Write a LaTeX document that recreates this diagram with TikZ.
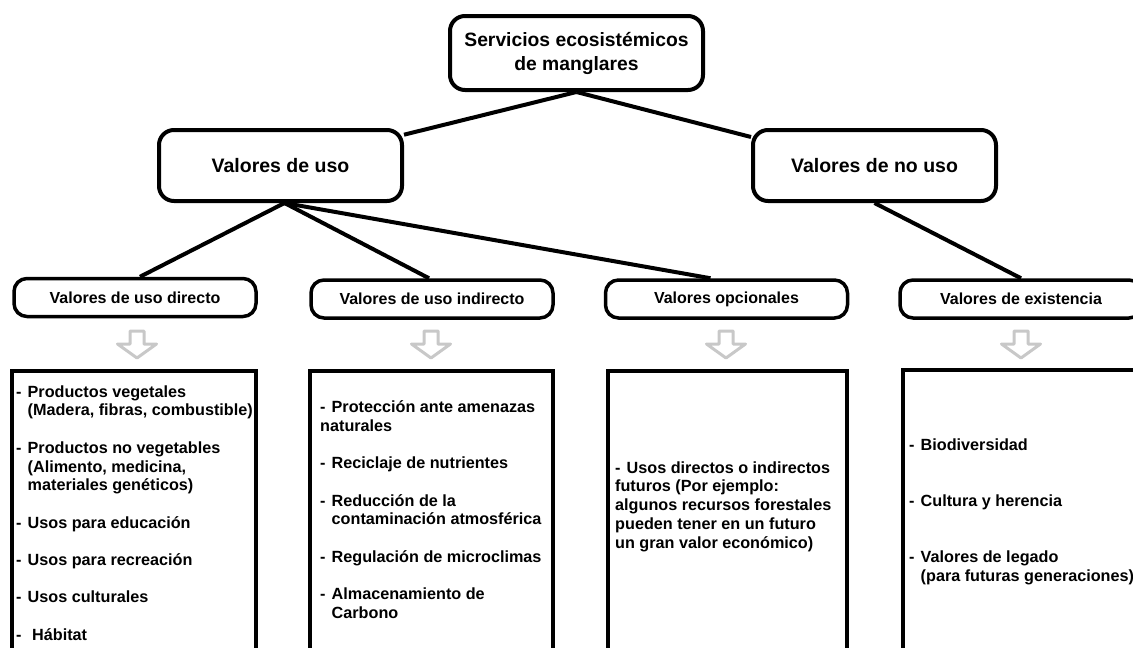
\documentclass[tikz,border=0pt]{standalone}
\usepackage{fontspec}
\setmainfont{Liberation Sans}
\usetikzlibrary{backgrounds,calc}
\definecolor{arrowgray}{RGB}{200,200,200}
\newcommand\lidash{\makebox[11.5pt][l]{-}}
\newcommand\liind{\hspace*{11.5pt}}
\newcommand\listrut{\rule{0pt}{15pt}}
\tikzset{
  lw/.style={line width=4pt},
  topbox/.style={draw, lw, rounded corners=15pt, fill=white, align=center,
    font=\fontsize{19.3}{24}\selectfont\bfseries, inner sep=0pt,
    minimum width=253pt, minimum height=74pt},
  midbox/.style={draw, lw, rounded corners=15pt, fill=white,
    font=\fontsize{19.5}{22}\selectfont\bfseries, inner sep=0pt,
    minimum width=243pt, minimum height=71pt},
  lowbox/.style={draw, line width=3.5pt, rounded corners=13pt, fill=white,
    font=\fontsize{16}{18.7}\selectfont\bfseries, inner sep=0pt,
    minimum width=242pt, minimum height=38pt},
  listbox/.style={draw, lw, anchor=north, minimum height=320pt, inner sep=0pt},
  listtext/.style={anchor=north west, align=left, inner sep=0pt,
    font=\fontsize{16.2}{18.7}\selectfont\bfseries},
  conn/.style={lw},
  hollowarrow/.style={draw=arrowgray, line width=3pt, fill=white, line join=round},
  downarrow/.pic={\path[hollowarrow] (-7,0) -- (7,0) -- (7,13) -- (19.5,13)
    -- (0,27) -- (-19.5,13) -- (-7,13) -- cycle;}
}
\begin{document}
\begin{tikzpicture}[x=1pt, y=-1pt]
\useasboundingbox (0,0) rectangle (1133,648);
\clip (0,0) rectangle (1133,648);

% top level
\node[topbox] (top) at (576.5,53) {Servicios ecosistémicos\\de manglares};

% second level
\node[midbox] (uso) at (280.5,165.5) {Valores de uso};
\node[midbox] (nouso) at (874.5,165.5) {Valores de no uso};

% third level
\node[lowbox] (d3) at (135,297.5) {Valores de uso directo};
\node[lowbox] (i3) at (432,299) {Valores de uso indirecto};
\node[lowbox] (o3) at (726.5,299) {Valores opcionales};
\node[lowbox] (e3) at (1021,299) {Valores de existencia};

% connectors
\begin{scope}[on background layer]
  \draw[conn] (top.south) -- (uso.14);
  \draw[conn] (top.south) -- (nouso.167);
  \draw[conn] ($(uso.south)+(4,0)$) -- ($(d3.north)+(5,0)$);
  \draw[conn] ($(uso.south)+(4,0)$) -- ($(i3.north)+(-3,0)$);
  \draw[conn] ($(uso.south)+(4,0)$) -- ($(o3.north)+(-16,0)$);
  \draw[conn] (nouso.south) -- (e3.north);
\end{scope}

% gray arrows
\pic at (137,331) {downarrow};
\pic at (431,331) {downarrow};
\pic at (726,331) {downarrow};
\pic at (1021,331) {downarrow};

% list boxes
\node[listbox, minimum width=244pt] (b1) at (134,369) {};
\node[listbox, minimum width=243pt] (b2) at (431.5,369) {};
\node[listbox, minimum width=239pt] (b3) at (727.5,369) {};
\node[listbox, minimum width=238pt] (b4) at (1022,368) {};

\node[listtext] (t1) at (16,382) {\listrut\lidash Productos vegetales\\
  \liind(Madera, fibras, combustible)\\[18.7pt]
  \lidash Productos no vegetables\\
  \liind(Alimento, medicina,\\
  \liind materiales genéticos)\\[18.7pt]
  \lidash Usos para educación\\[18.7pt]
  \lidash Usos para recreación\\[18.7pt]
  \lidash Usos culturales\\[18.7pt]
  \lidash\ Hábitat};

\node[listtext] (t2) at (320,397.5) {\listrut\lidash Protección ante amenazas\\
  naturales\\[18.7pt]
  \lidash Reciclaje de nutrientes\\[18.7pt]
  \lidash Reducción de la\\
  \liind contaminación atmosférica\\[18.7pt]
  \lidash Regulación de microclimas\\[18.7pt]
  \lidash Almacenamiento de\\
  \liind Carbono};

\node[listtext] (t3) at (615,458) {\listrut\lidash Usos directos o indirectos\\
  futuros (Por ejemplo:\\
  algunos recursos forestales\\
  pueden tener en un futuro\\
  un gran valor económico)};

\node[listtext] (t4) at (909,435) {\listrut\lidash Biodiversidad\\[37.4pt]
  \lidash Cultura y herencia\\[37.4pt]
  \lidash Valores de legado\\
  \liind(para futuras generaciones)};
\end{tikzpicture}
\end{document}
